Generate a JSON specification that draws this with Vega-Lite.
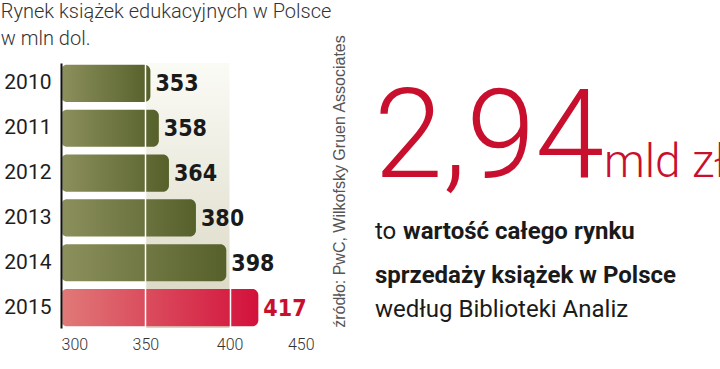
{
  "$schema": "https://vega.github.io/schema/vega-lite/v6.json",
  "autosize": {"type": "none"},
  "padding": {"left": 61, "top": 63, "right": 406, "bottom": 41},
  "width": 253,
  "height": 265,
  "background": "#ffffff",
  "title": {
    "text": ["Rynek książek edukacyjnych w Polsce", "w mln dol."],
    "anchor": "start",
    "frame": "bounds",
    "font": "Roboto",
    "fontSize": 20,
    "fontWeight": 300,
    "color": "#333333",
    "lineHeight": 27,
    "offset": -15,
    "dx": -3
  },
  "config": {
    "view": {
      "stroke": null,
      "fill": {"gradient": "linear", "x1": 0, "y1": 0, "x2": 0, "y2": 1,
        "stops": [{"offset": 0, "color": "#fbfbfb"}, {"offset": 1, "color": "#dcdfe2"}]}
    }
  },
  "data": {
    "values": [
      {"year": "2010", "value": 353},
      {"year": "2011", "value": 358},
      {"year": "2012", "value": 364},
      {"year": "2013", "value": 380},
      {"year": "2014", "value": 398},
      {"year": "2015", "value": 417}
    ]
  },
  "resolve": {"axis": {"y": "independent"}},
  "layer": [
    {
      "data": {"values": [{}]},
      "mark": {"type": "rect",
        "color": {"gradient": "linear", "x1": 0, "y1": 0, "x2": 0, "y2": 1,
          "stops": [{"offset": 0, "color": "#fbfbf6"}, {"offset": 1, "color": "#d8d5c0"}]}},
      "encoding": {
        "x": {"datum": 350, "type": "quantitative"},
        "x2": {"datum": 400}
      }
    },
    {
      "transform": [{"filter": "datum.year != '2015'"}],
      "mark": {"type": "bar", "cornerRadiusEnd": 6,
        "color": {"gradient": "linear", "x1": 0, "y1": 0, "x2": 1, "y2": 0,
          "stops": [{"offset": 0, "color": "#8c905d"}, {"offset": 1, "color": "#56602a"}]}},
      "encoding": {
        "y": {"field": "year", "type": "nominal", "sort": null,
          "scale": {"paddingInner": 0.17, "paddingOuter": 0.04},
          "axis": {"title": null, "orient": "left", "ticks": false, "domain": true,
            "domainColor": "#111111", "domainWidth": 2, "zindex": 2,
            "labelFont": "Roboto", "labelFontSize": 21, "labelColor": "#1e1e1e",
            "labelPadding": 10}},
        "x": {"field": "value", "type": "quantitative",
          "scale": {"domain": [300, 450], "zero": false, "nice": false},
          "axis": {"title": null, "values": [300, 350, 400, 450], "ticks": false,
            "domain": false, "grid": true, "gridColor": "#ffffff", "gridWidth": 1.5,
            "zindex": 1, "labelFont": "Roboto", "labelFontSize": 16, "labelFontWeight": 300,
            "labelColor": "#333333", "labelPadding": 8}},
        "x2": {"datum": 300}
      }
    },
    {
      "transform": [{"filter": "datum.year == '2015'"}],
      "mark": {"type": "bar", "cornerRadiusEnd": 6,
        "color": {"gradient": "linear", "x1": 0, "y1": 0, "x2": 1, "y2": 0,
          "stops": [{"offset": 0, "color": "#e07a78"}, {"offset": 1, "color": "#d3113b"}]}},
      "encoding": {
        "y": {"field": "year", "type": "nominal", "sort": null, "axis": null},
        "x": {"field": "value", "type": "quantitative"},
        "x2": {"datum": 300}
      }
    },
    {
      "mark": {"type": "text", "align": "left", "baseline": "middle", "dx": 5, "dy": 1,
        "font": "DejaVu Sans Condensed", "fontWeight": "bold", "fontSize": 23},
      "encoding": {
        "y": {"field": "year", "type": "nominal", "sort": null,
          "axis": {"orient": "right", "labels": false, "ticks": false, "domain": false,
            "title": "źródło: PwC, Wilkofsky Gruen Associates", "titleAngle": 270,
            "titleFont": "Liberation Sans", "titleFontSize": 16, "titleFontWeight": "normal",
            "titleColor": "#555555", "titlePadding": 33, "titleY": 118,
            "titleAlign": "center", "titleBaseline": "bottom"}},
        "x": {"field": "value", "type": "quantitative"},
        "text": {"field": "value", "type": "quantitative"},
        "color": {"condition": {"test": "datum.year == '2015'", "value": "#c8102e"}, "value": "#1a1a1a"}
      }
    },
    {
      "data": {"values": [{}]},
      "mark": {"type": "text", "text": "2,94", "x": 313, "y": 114, "align": "left",
        "baseline": "alphabetic", "font": "Roboto", "fontWeight": 300, "fontSize": 124, "color": "#c8102e"},
      "encoding": {}
    },
    {
      "data": {"values": [{}]},
      "mark": {"type": "text", "text": "mld zł", "x": 543, "y": 114, "align": "left",
        "baseline": "alphabetic", "font": "Roboto", "fontWeight": 300, "fontSize": 46, "color": "#c8102e"},
      "encoding": {}
    },
    {
      "data": {"values": [{}]},
      "mark": {"type": "text", "text": "to", "x": 314, "y": 176, "align": "left",
        "baseline": "alphabetic", "font": "Roboto", "fontWeight": "normal", "fontSize": 24, "color": "#1a1a1a"},
      "encoding": {}
    },
    {
      "data": {"values": [{}]},
      "mark": {"type": "text", "text": "wartość całego rynku", "x": 342, "y": 176, "align": "left",
        "baseline": "alphabetic", "font": "Roboto", "fontWeight": "bold", "fontSize": 24, "color": "#1a1a1a"},
      "encoding": {}
    },
    {
      "data": {"values": [{}]},
      "mark": {"type": "text", "text": "sprzedaży książek w Polsce", "x": 314, "y": 220, "align": "left",
        "baseline": "alphabetic", "font": "Roboto", "fontWeight": "bold", "fontSize": 24, "color": "#1a1a1a"},
      "encoding": {}
    },
    {
      "data": {"values": [{}]},
      "mark": {"type": "text", "text": "według Biblioteki Analiz", "x": 314, "y": 254, "align": "left",
        "baseline": "alphabetic", "font": "Roboto", "fontWeight": "normal", "fontSize": 24, "color": "#1a1a1a"},
      "encoding": {}
    }
  ]
}
